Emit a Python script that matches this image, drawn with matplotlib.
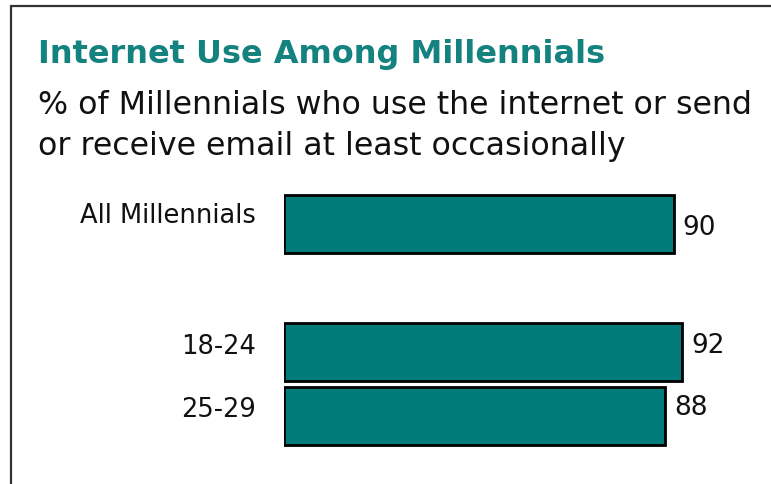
import matplotlib.pyplot as plt
from matplotlib.patches import Rectangle

labels = ["All Millennials", "18-24", "25-29"]
values = [90, 92, 88]
positions = [0, 2, 3]

teal = "#007b79"
title_col = "#14827f"

fig = plt.figure(figsize=(7.71, 4.84), dpi=100)
W, H = 771, 484

# frame around the whole chart
fig.add_artist(Rectangle((10.5 / W, -0.1), 1.2, (H - 5.5) / H + 0.1,
                         transform=fig.transFigure, fill=False,
                         edgecolor="#333333", linewidth=1.6))

fig.text(38 / W, 1 - 54 / H, "Internet Use Among Millennials", color=title_col,
         fontsize=23, fontweight="bold", va="center", ha="left")
fig.text(38 / W, 1 - 106 / H, "% of Millennials who use the internet or send",
         color="#111111", fontsize=22.8, va="center", ha="left")
fig.text(38 / W, 1 - 147 / H, "or receive email at least occasionally",
         color="#111111", fontsize=22.8, va="center", ha="left")

ax = fig.add_axes([284 / W, 36 / H, 433 / W, 256 / H])
ax.barh(positions, values, height=0.9, color=teal, edgecolor="black", linewidth=2)
ax.set_xlim(0, 100)
ax.set_ylim(3.5, -0.5)
ax.axis("off")

label_dy = [-0.12, -0.08, -0.1]
value_dy = [0.06, -0.1, -0.12]
for p, v, lab, ldy, vdy in zip(positions, values, labels, label_dy, value_dy):
    ax.text(-6.5, p + ldy, lab, ha="right", va="center", fontsize=18.5, color="#111111")
    ax.annotate(str(v), (v, p + vdy), xytext=(9, 0), textcoords="offset pixels",
                ha="left", va="center", fontsize=19, color="#111111")

fig.savefig("out.png", dpi=100)
